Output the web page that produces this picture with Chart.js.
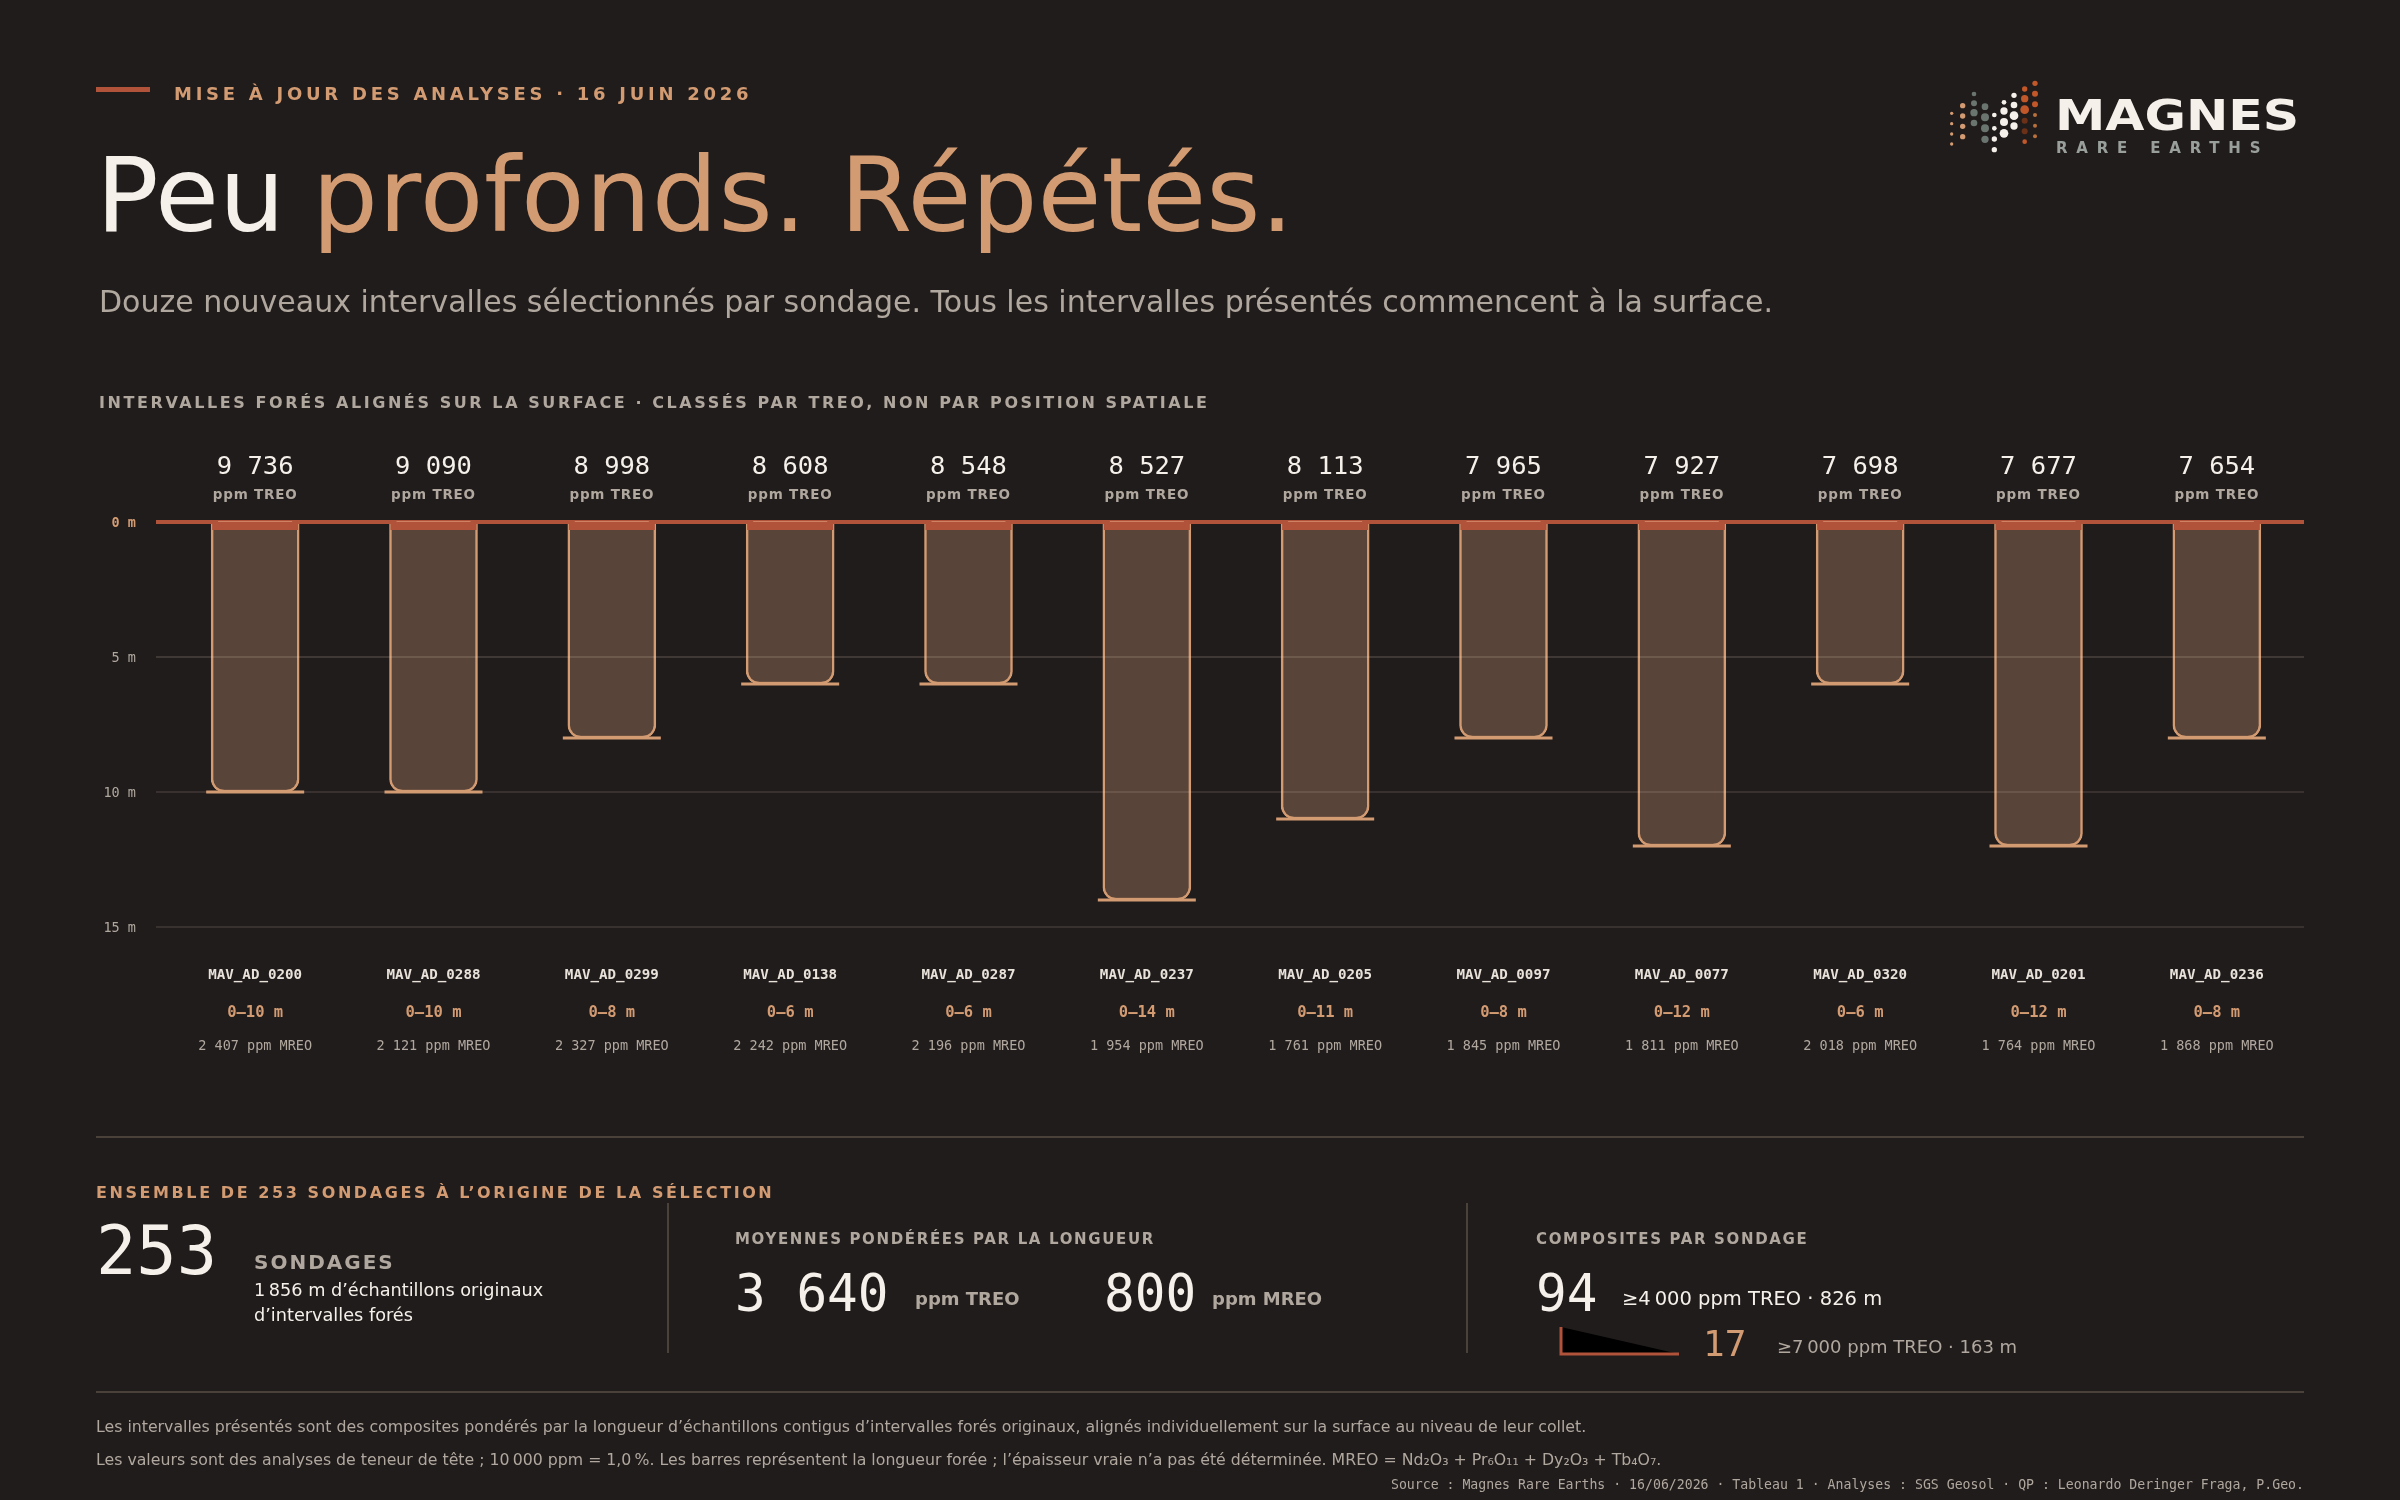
<!DOCTYPE html>
<html lang="fr">
<head>
<meta charset="utf-8">
<title>Peu profonds. Répétés.</title>
<script src="https://cdn.jsdelivr.net/npm/chart.js@4/dist/chart.umd.min.js"></script>
<style>
    html, body { margin: 0; padding: 0; background: #211c1c; }
    #page { position: relative; width: 2400px; height: 1500px; overflow: hidden; background: #211c1c; font-family: "DejaVu Sans", sans-serif; }
    #page canvas { position: absolute; left: 0; top: 0; }
    .t { position: absolute; white-space: nowrap; transform: translateY(-50%); line-height: 1; }
    .r { position: absolute; background: #4a413b; }
    .mono { font-family: "DejaVu Sans Mono", monospace; }
    .b { font-weight: bold; }
    .cream { color: #f5f1ea; }
    .tan { color: #d39b72; }
    .grey { color: #b0a89f; }
</style>
</head>
<body>
<div id="page">
    <canvas id="depthChart" width="2400" height="1500"></canvas>

    <div class="r" style="left:96px;top:87px;width:54px;height:5px;background:#b0533a"></div>
    <div class="t b tan" style="left:174px;top:94px;font-size:18px;letter-spacing:3.74px">MISE À JOUR DES ANALYSES · 16 JUIN 2026</div>
    <div class="t cream" style="left:96px;top:195px;font-size:104px">Peu <span class="tan" style="margin-left:-6px;letter-spacing:0.6px">profonds.</span> <span class="tan">Répétés.</span></div>
    <div class="t grey" style="left:99px;top:302px;font-size:30px">Douze nouveaux intervalles sélectionnés par sondage. Tous les intervalles présentés commencent à la surface.</div>
    <div class="t b grey" style="left:99px;top:403px;font-size:16px;letter-spacing:2.58px">INTERVALLES FORÉS ALIGNÉS SUR LA SURFACE · CLASSÉS PAR TREO, NON PAR POSITION SPATIALE</div>

    <svg id="logoDots" style="position:absolute;left:1900px;top:60px" width="140" height="110" viewBox="0 0 420 330"></svg>
    <div class="t b cream" style="left:2055px;top:116px;font-size:42.5px;transform:translateY(-50%) scaleX(1.19);transform-origin:left center">MAGNES</div>
    <div class="t b" style="left:2056px;top:148px;font-size:15px;letter-spacing:8.8px;color:#99a09b">RARE EARTHS</div>

    <div class="r" style="left:96px;top:1136px;width:2208px;height:2px"></div>
    <div class="t b tan" style="left:96px;top:1193px;font-size:16px;letter-spacing:2.58px">ENSEMBLE DE 253 SONDAGES À L’ORIGINE DE LA SÉLECTION</div>

    <div class="t mono cream" style="left:96px;top:1251px;font-size:67px">253</div>
    <div class="t b grey" style="left:254px;top:1262px;font-size:20px;letter-spacing:2px">SONDAGES</div>
    <div class="t cream" style="left:254px;top:1291px;font-size:17.7px">1&#8239;856 m d’échantillons originaux</div>
    <div class="t cream" style="left:254px;top:1316px;font-size:17.7px">d’intervalles forés</div>
    <div class="r" style="left:667px;top:1203px;width:2px;height:150px"></div>

    <div class="t b grey" style="left:735px;top:1239px;font-size:15px;letter-spacing:1.65px">MOYENNES PONDÉRÉES PAR LA LONGUEUR</div>
    <div class="t mono cream" style="left:735px;top:1293px;font-size:51px">3 640</div>
    <div class="t b grey" style="left:915px;top:1299px;font-size:18px">ppm TREO</div>
    <div class="t mono cream" style="left:1104px;top:1293px;font-size:51px">800</div>
    <div class="t b grey" style="left:1212px;top:1299px;font-size:18px">ppm MREO</div>
    <div class="r" style="left:1466px;top:1203px;width:2px;height:150px"></div>

    <div class="t b grey" style="left:1536px;top:1239px;font-size:15px;letter-spacing:1.65px">COMPOSITES PAR SONDAGE</div>
    <div class="t mono cream" style="left:1536px;top:1293px;font-size:51px">94</div>
    <div class="t cream" style="left:1622px;top:1299px;font-size:19.5px">≥4&#8239;000 ppm TREO · 826 m</div>
    <svg style="position:absolute;left:1555px;top:1322px" width="130" height="36"><polyline points="6,5 6,32 124,32" stroke="#b0533a" stroke-width="3"></polyline></svg>
    <div class="t mono tan" style="left:1703px;top:1344px;font-size:36px">17</div>
    <div class="t grey" style="left:1777px;top:1347px;font-size:18px">≥7&#8239;000 ppm TREO · 163 m</div>

    <div class="r" style="left:96px;top:1391px;width:2208px;height:2px"></div>
    <div class="t grey" style="left:96px;top:1427px;font-size:15.75px">Les intervalles présentés sont des composites pondérés par la longueur d’échantillons contigus d’intervalles forés originaux, alignés individuellement sur la surface au niveau de leur collet.</div>
    <div class="t grey" style="left:96px;top:1460px;font-size:15.75px">Les valeurs sont des analyses de teneur de tête ; 10&#8239;000 ppm = 1,0&#8239;%. Les barres représentent la longueur forée ; l’épaisseur vraie n’a pas été déterminée. MREO = Nd₂O₃ + Pr₆O₁₁ + Dy₂O₃ + Tb₄O₇.</div>
    <div class="t mono grey" style="right:96px;top:1485px;font-size:13.2px">Source : Magnes Rare Earths · 16/06/2026 · Tableau 1 · Analyses : SGS Geosol · QP : Leonardo Deringer Fraga, P.Geo.</div>
</div>

<script>
// Drill holes, sorted by TREO
const holeIds = ['MAV_AD_0200', 'MAV_AD_0288', 'MAV_AD_0299', 'MAV_AD_0138', 'MAV_AD_0287', 'MAV_AD_0237',
    'MAV_AD_0205', 'MAV_AD_0097', 'MAV_AD_0077', 'MAV_AD_0320', 'MAV_AD_0201', 'MAV_AD_0236'];
const depthMetres = [10, 10, 8, 6, 6, 14, 11, 8, 12, 6, 12, 8];
const treoPpm = [9736, 9090, 8998, 8608, 8548, 8527, 8113, 7965, 7927, 7698, 7677, 7654];
const mreoPpm = [2407, 2121, 2327, 2242, 2196, 1954, 1761, 1845, 1811, 2018, 1764, 1868];
const depthTicks = [0, 5, 10, 15];

const TAN = '#d39b72';
const RED = '#b0533a';
const CREAM = '#f5f1ea';
const GREY = '#b0a89f';
const MONO = '"DejaVu Sans Mono", monospace';
const SANS = '"DejaVu Sans", sans-serif';

function formatPpm(value) {
    return String(value).replace(/\B(?=(\d{3})+$)/g, ' ');
}

function drawLabel(ctx, text, x, y, font, color, spacing) {
    ctx.font = font;
    ctx.fillStyle = color;
    ctx.letterSpacing = spacing || '0px';
    ctx.textAlign = 'center';
    ctx.textBaseline = 'middle';
    ctx.fillText(text, x, y);
    ctx.letterSpacing = '0px';
}

// Grid lines run wider than the plot, caps and feet sit on each bar, grades go above and below it
const drillPlugin = {
    id: 'drillPlugin',
    afterDatasetsDraw(chart) {
        const ctx = chart.ctx;
        const yScale = chart.scales.y;
        ctx.save();

        depthTicks.forEach(tick => {
            if (tick === 0) return;
            ctx.fillStyle = tick === 5 ? 'rgba(245, 225, 205, 0.14)' : 'rgba(245, 225, 205, 0.11)';
            ctx.fillRect(156, yScale.getPixelForValue(tick) - 1, 2148, 2);
        });

        ctx.fillStyle = RED;
        ctx.fillRect(156, yScale.getPixelForValue(0) - 2, 2148, 4);

        chart.getDatasetMeta(0).data.forEach((bar, i) => {
            const half = bar.width / 2;
            const top = yScale.getPixelForValue(0);

            ctx.fillStyle = RED;
            ctx.fillRect(bar.x - half + 1, top - 2, bar.width - 2, 10);
            ctx.fillStyle = 'rgba(232, 170, 130, 0.55)';
            ctx.fillRect(bar.x - half + 7, top - 1, bar.width - 14, 1);

            ctx.fillStyle = TAN;
            ctx.fillRect(bar.x - half - 5, bar.y - 1.5, bar.width + 10, 3);

            drawLabel(ctx, formatPpm(treoPpm[i]), bar.x, 467, '25.5px ' + MONO, CREAM);
            drawLabel(ctx, 'ppm TREO', bar.x, 495, 'bold 13.5px ' + SANS, GREY, '0.8px');
            drawLabel(ctx, '0–' + depthMetres[i] + ' m', bar.x, 1012.5, 'bold 15.5px ' + MONO, TAN);
            drawLabel(ctx, formatPpm(mreoPpm[i]) + ' ppm MREO', bar.x, 1046, '13.5px ' + MONO, GREY);
        });

        ctx.restore();
    }
};

function initializeChart() {
    const ctx = document.getElementById('depthChart');

    new Chart(ctx, {
        type: 'bar',
        data: {
            labels: holeIds,
            datasets: [{
                data: depthMetres,
                backgroundColor: '#584439',
                borderColor: TAN,
                borderWidth: 2.5,
                borderSkipped: false,
                borderRadius: { topLeft: 0, topRight: 0, bottomLeft: 13, bottomRight: 13 },
                barThickness: 88
            }]
        },
        options: {
            responsive: false,
            animation: false,
            layout: { padding: { left: 0, right: 94, top: 522, bottom: 373 } },
            plugins: { legend: { display: false }, tooltip: { enabled: false } },
            scales: {
                x: {
                    position: 'bottom',
                    afterFit: scale => { scale.height = 200; },
                    grid: { display: false, drawTicks: false },
                    border: { display: false },
                    ticks: {
                        autoSkip: false,
                        maxRotation: 0,
                        padding: 40,
                        color: '#e8e2da',
                        font: { family: MONO, size: 14.2, weight: 'bold' }
                    }
                },
                y: {
                    reverse: true,
                    min: 0,
                    max: 15,
                    afterFit: scale => { scale.width = 166; },
                    afterBuildTicks: scale => { scale.ticks = depthTicks.map(value => ({ value })); },
                    grid: { display: false, drawTicks: false },
                    border: { display: false },
                    ticks: {
                        padding: 30,
                        labelOffset: 1.5,
                        color: c => c.tick.value === 0 ? TAN : GREY,
                        font: c => ({ family: MONO, size: 13.5, weight: c.tick && c.tick.value === 0 ? 'bold' : 'normal' }),
                        callback: value => value + ' m'
                    }
                }
            }
        },
        plugins: [drillPlugin]
    });
}

// Logo dots: column x, then [y, radius] pairs, in the logo's own units
function drawLogoDots() {
    const columns = [
        [155, '#d39b72', [[160, 5], [191, 5], [222, 5], [252, 5]]],
        [188, '#d39b72', [[137, 8], [168, 8], [199, 8], [230, 8]]],
        [222, '#6b7570', [[102, 7], [130, 9], [158, 11], [189, 10]]],
        [255, '#6b7570', [[140, 10], [172, 12], [205, 12], [238, 11]]],
        [283, '#f5f1ea', [[165, 7], [205, 7], [237, 8], [269, 8]]],
        [312, '#f5f1ea', [[127, 7], [153, 11], [186, 12], [220, 13]]],
        [342, '#f5f1ea', [[106, 8], [135, 10], [167, 13], [198, 11]]],
        [374, '#c2582a', [[87, 8], [116, 11], [149, 13], [245, 7]]],
        [374, '#6b3018', [[182, 9], [214, 9]]],
        [405, '#c2582a', [[70, 8], [101, 9], [133, 9]]],
        [405, '#b9703a', [[165, 6], [197, 6], [229, 6]]]
    ];
    const svg = document.getElementById('logoDots');
    let markup = '';
    columns.forEach(([x, color, dots]) => {
        dots.forEach(([y, r]) => {
            markup += `<circle cx="${x}" cy="${y}" r="${r}" fill="${color}"></circle>`;
        });
    });
    svg.innerHTML = markup;
}

document.addEventListener('DOMContentLoaded', function() {
    initializeChart();
    drawLogoDots();
});
</script>
</body>
</html>
